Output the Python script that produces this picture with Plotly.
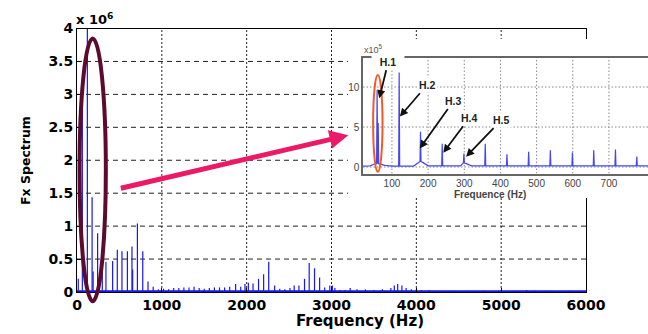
import plotly.graph_objects as go

W, H = 648, 334

# ---- main spectrum (amplitudes in units of 1e6) ----
main_hz = [15, 63, 122, 178, 190, 243, 298, 341, 420, 475, 530, 594, 648, 656, 712, 775, 837, 898,
           960, 1020, 1080, 1140, 1200, 1260, 1320, 1380, 1440, 1500, 1560, 1620, 1680, 1740, 1800,
           1870, 1930, 1980, 2020, 2075, 2140, 2200, 2260, 2330, 2390, 2450, 2510, 2560, 2616, 2682,
           2737, 2800, 2860, 2920, 2980, 3010, 3040, 3100, 3160, 3220, 3300, 3400, 3500, 3600, 3700,
           3740, 3780, 3830, 3880, 3940, 4000, 4060, 4150, 4250, 4400, 4600, 4800, 5000, 5200, 5300,
           5400, 5600, 5800]
main_amp = [0.20, 3.06, 4.00, 1.44, 0.31, 0.89, 0.65, 0.46, 0.47, 0.64, 0.62, 0.62, 0.69, 0.34, 1.04, 0.62, 0.16, 0.08,
            0.04, 0.05, 0.04, 0.06, 0.06, 0.07, 0.07, 0.08, 0.06, 0.05, 0.06, 0.07, 0.07, 0.07, 0.08,
            0.12, 0.08, 0.12, 0.14, 0.13, 0.20, 0.27, 0.46, 0.10, 0.05, 0.04, 0.06, 0.10, 0.10, 0.20,
            0.44, 0.36, 0.22, 0.07, 0.10, 0.10, 0.06, 0.03, 0.03, 0.06, 0.04, 0.04, 0.03, 0.04, 0.06,
            0.10, 0.12, 0.10, 0.06, 0.04, 0.04, 0.03, 0.03, 0.02, 0.02, 0.02, 0.02, 0.02, 0.02, 0.03,
            0.02, 0.02, 0.02]
floor_hz = [0, 6000]
floor_amp = [0.012, 0.012]

main_xrange = [0, 6000]
main_yrange = [0, 4]
main_xticks = [0, 1000, 2000, 3000, 4000, 5000, 6000]
main_yticks = [0, 0.5, 1, 1.5, 2, 2.5, 3, 3.5, 4]
main_yticktext = ["0", "0.5", "1", "1.5", "2", "2.5", "3", "3.5", "4"]

# ---- zoomed spectrum 20-800 Hz (amplitudes in units of 1e5) ----
inset_peak_hz = [59, 62, 120, 179, 239, 299, 358, 418, 478, 538, 599, 658, 718, 777]
inset_peak_amp = [9.6, 5.5, 11.8, 4.4, 2.9, 1.7, 2.9, 1.6, 1.9, 2.1, 1.8, 2.1, 2.2, 1.3]
inset_peak_base = [0.4, 0.4, 0.15, 0.7, 0.15, 0.5, 0.15, 0.15, 0.15, 0.15, 0.15, 0.15, 0.15, 0.15]
inset_floor_hz = [20, 40, 50, 56, 66, 80, 100, 160, 172, 186, 200, 290, 296, 304, 320, 808]
inset_floor_amp = [0.10, 0.15, 0.35, 0.45, 0.40, 0.20, 0.12, 0.12, 0.55, 0.55, 0.15, 0.15, 0.45, 0.45, 0.15, 0.15]
inset_xrange = [20, 808]
inset_yrange = [-0.81, 13.69]
inset_xticks = [100, 200, 300, 400, 500, 600, 700]
inset_yticks = [0, 5, 10]

# harmonic labels: label position and the point each arrow marks, in inset data units
harm_text = ["H.1", "H.2", "H.3", "H.4", "H.5"]
harm_text_xy = [(90, 13.16), (197, 10.25), (271, 8.29), (314, 6.13), (403, 5.88)]
harm_head = [(65, 8.6), (122, 6.3), (177, 2.33), (242, 1.79), (305, 1.29)]

# ---- build stems for the main spectrum ----
stem_x, stem_y = [], []
for f, a in zip(main_hz, main_amp):
    stem_x += [f, f, None]
    stem_y += [0, a, None]

# ---- build the zoomed spectrum line ----
pts = list(zip(inset_floor_hz, inset_floor_amp))
hw = 1.4
for f, a, b in zip(inset_peak_hz, inset_peak_amp, inset_peak_base):
    pts += [(f - hw, b), (f, a), (f + hw, b)]
pts.sort(key=lambda p: p[0])
inset_x = [p[0] for p in pts]
inset_y = [p[1] for p in pts]


def grid_segments(ticks, span, vertical):
    """Polyline (None-separated) for gridlines at the given tick values."""
    xs, ys = [], []
    for t in ticks:
        if vertical:
            xs += [t, t, None]
            ys += [span[0], span[1], None]
        else:
            xs += [span[0], span[1], None]
            ys += [t, t, None]
    return xs, ys


def grid_trace(ticks, span, vertical, color, dash, xa, ya):
    gx, gy = grid_segments(ticks, span, vertical)
    return go.Scatter(x=gx, y=gy, mode="lines", line=dict(color=color, width=1, dash=dash),
                      xaxis=xa, yaxis=ya, hoverinfo="skip", showlegend=False)


BLUE = "#1717f5"
fig = go.Figure()
# main grid: dotted verticals, dashed horizontals
fig.add_trace(grid_trace(main_xticks[1:-1], main_yrange, True, "#222", "2px,2px", "x", "y"))
fig.add_trace(grid_trace(main_yticks[1:-1], main_xrange, False, "#222", "5px,4px", "x", "y"))
fig.add_trace(go.Scatter(x=stem_x, y=stem_y, mode="lines", line=dict(color=BLUE, width=1.2),
                         xaxis="x", yaxis="y", hoverinfo="skip", showlegend=False))
fig.add_trace(go.Scatter(x=floor_hz, y=floor_amp, mode="lines", line=dict(color=BLUE, width=2),
                         xaxis="x", yaxis="y", hoverinfo="skip", showlegend=False))
# white panel behind the zoomed view
fig.add_trace(go.Scatter(x=[0, 1, 1, 0, 0], y=[0, 0, 1, 1, 0], mode="lines", fill="toself",
                         fillcolor="white", line=dict(width=0, color="white"),
                         xaxis="x2", yaxis="y2", hoverinfo="skip", showlegend=False))
# zoomed view grid + spectrum
fig.add_trace(grid_trace(inset_xticks, inset_yrange, True, "#8a8a8a", "1.5px,2px", "x3", "y3"))
fig.add_trace(grid_trace(inset_yticks, inset_xrange, False, "#8a8a8a", "1.5px,2px", "x3", "y3"))
fig.add_trace(go.Scatter(x=inset_x, y=inset_y, mode="lines", line=dict(color="#4646ee", width=1.2),
                         xaxis="x3", yaxis="y3", hoverinfo="skip", showlegend=False))


def px_x(p):
    return p / W


def px_y(p):
    return 1 - p / H


BOLD = "DejaVu Sans"
tickfont = dict(family=BOLD, size=14, color="black", weight="bold")
small = dict(family="Liberation Sans Narrow, Liberation Sans", size=10, color="#444")

fig.update_layout(
    width=W, height=H, margin=dict(l=0, r=0, t=0, b=0),
    paper_bgcolor="white", plot_bgcolor="white", showlegend=False,
    xaxis=dict(domain=[px_x(77), px_x(586)], anchor="y", range=main_xrange, tickvals=main_xticks,
               showgrid=False, showline=True, linecolor="black", linewidth=1, mirror=True,
               ticks="inside", ticklen=4, tickcolor="black", tickfont=tickfont,
               zeroline=False, automargin=False),
    yaxis=dict(domain=[px_y(292), px_y(28.5)], anchor="x", range=main_yrange, tickvals=main_yticks,
               ticktext=main_yticktext, showgrid=False, showline=True, linecolor="black",
               linewidth=1, mirror=True, ticks="inside", ticklen=4, tickcolor="black",
               tickfont=tickfont, zeroline=False, automargin=False),
    xaxis2=dict(domain=[px_x(348), 1.0], anchor="y2", range=[0, 1], visible=False),
    yaxis2=dict(domain=[px_y(198), px_y(39)], anchor="x2", range=[0, 1], visible=False),
    xaxis3=dict(domain=[px_x(363), 1.0], anchor="y3", range=inset_xrange, tickvals=inset_xticks,
                showgrid=False, showline=True, linecolor="#666", linewidth=1.5, mirror=True,
                ticks="", tickfont=small, zeroline=False, automargin=False),
    yaxis3=dict(domain=[px_y(173.5), px_y(57.5)], anchor="x3", range=inset_yrange,
                tickvals=inset_yticks, showgrid=False, showline=True, linecolor="#666",
                linewidth=1.5, mirror=False, ticks="", tickfont=small, zeroline=False,
                automargin=False),
)

ann = []
ann.append(dict(xref="paper", yref="paper", x=px_x(74), y=px_y(19), xanchor="left", yanchor="middle",
                text="<b>x 10<sup>6</sup></b>", showarrow=False,
                font=dict(family=BOLD, size=13, color="black")))
ann.append(dict(xref="paper", yref="paper", x=px_x(25), y=px_y(161), xanchor="center", yanchor="middle",
                textangle=-90, text="<b>Fx Spectrum</b>", showarrow=False,
                font=dict(family=BOLD, size=12.5, color="black")))
ann.append(dict(xref="paper", yref="paper", x=px_x(360), y=px_y(321), xanchor="center", yanchor="middle",
                text="<b>Frequency (Hz)</b>", showarrow=False,
                font=dict(family=BOLD, size=15, color="black")))
ann.append(dict(xref="paper", yref="paper", x=px_x(362), y=px_y(49), xanchor="left", yanchor="middle",
                text="x10<sup>5</sup>", showarrow=False,
                font=dict(family="Liberation Sans Narrow, Liberation Sans", size=9, color="#555")))
ann.append(dict(xref="paper", yref="paper", x=px_x(490), y=px_y(194), xanchor="center", yanchor="middle",
                text="<b>Frequence (Hz)</b>", showarrow=False,
                font=dict(family="Liberation Sans Narrow, Liberation Sans", size=10, color="#444")))
# harmonic labels, each with an arrow from the label to its spike
for t, (tx, ty), (hx, hy) in zip(harm_text, harm_text_xy, harm_head):
    ann.append(dict(xref="x3", yref="y3", x=hx, y=hy, axref="x3", ayref="y3", ax=tx, ay=ty,
                    text="<b>" + t + "</b>", showarrow=True, arrowhead=2, arrowsize=0.9,
                    arrowwidth=1.8, arrowcolor="#111", standoff=0, startstandoff=1,
                    bgcolor="white", font=dict(family="Liberation Sans", size=10.5, color="#222"),
                    width=30 if t == "H.1" else None))
# pointer from the main plot to the zoomed view
ann.append(dict(xref="x", yref="y", x=3198, y=2.38, axref="x", ayref="y", ax=499, ay=1.57,
                text="", showarrow=True, arrowhead=2, arrowsize=0.75, arrowwidth=5,
                arrowcolor="#ec1a66"))
fig.update_layout(annotations=ann)

# highlight of the low-frequency region on the main plot
fig.add_shape(type="circle", xref="x domain", yref="y domain",
              x0=30 / 6000, x1=340 / 6000, y0=-0.14 / 4, y1=3.85 / 4,
              line=dict(color="#5c0a2e", width=4), layer="above")
# highlight of the fundamental in the zoomed view
fig.add_shape(type="circle", xref="x3", yref="y3", x0=48, x1=74, y0=-0.6, y1=11.5,
              line=dict(color="#f05a28", width=2), layer="above")

fig.write_html("out.html")
